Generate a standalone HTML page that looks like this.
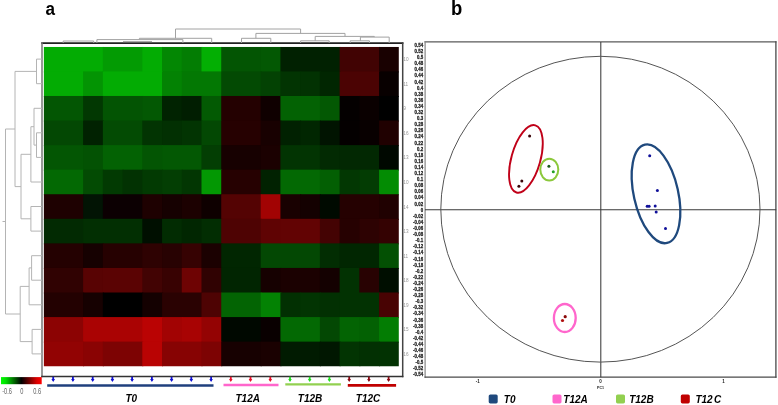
<!DOCTYPE html>
<html><head><meta charset="utf-8"><title>Figure</title>
<style>html,body{margin:0;padding:0;background:#fff}svg{display:block}text{font-family:"Liberation Sans",sans-serif}</style></head>
<body>
<svg width="778" height="405" viewBox="0 0 778 405">
<rect width="778" height="405" fill="#fff"/>
<defs><linearGradient id="cb" x1="0" x2="1" y1="0" y2="0"><stop offset="0" stop-color="#00ff00"/><stop offset="0.12" stop-color="#00dc00"/><stop offset="0.5" stop-color="#000"/><stop offset="0.88" stop-color="#dc0000"/><stop offset="1" stop-color="#ff0000"/></linearGradient></defs>
<text transform="translate(45.4 14.8) scale(0.9 1)" font-size="19" font-weight="bold" fill="#000">a</text>
<text transform="translate(451 14.8) scale(0.9 1)" font-size="20.5" font-weight="bold" fill="#000">b</text>
<clipPath id="hm"><rect x="43.65" y="46.85" width="355.15" height="319.35"/></clipPath><g clip-path="url(#hm)">
<rect x="43.65" y="46.85" width="60.19" height="25.57" fill="rgb(3,172,3)"/><rect x="102.84" y="46.85" width="40.46" height="25.57" fill="rgb(3,155,3)"/><rect x="142.30" y="46.85" width="20.73" height="25.57" fill="rgb(3,172,3)"/><rect x="162.03" y="46.85" width="20.73" height="25.57" fill="rgb(3,135,3)"/><rect x="181.76" y="46.85" width="20.73" height="25.57" fill="rgb(3,125,3)"/><rect x="201.49" y="46.85" width="20.73" height="25.57" fill="rgb(3,175,3)"/><rect x="221.23" y="46.85" width="40.46" height="25.57" fill="rgb(3,85,3)"/><rect x="260.69" y="46.85" width="20.73" height="25.57" fill="rgb(3,88,3)"/><rect x="280.42" y="46.85" width="60.19" height="25.57" fill="rgb(1,33,1)"/><rect x="339.61" y="46.85" width="40.46" height="25.57" fill="rgb(65,3,3)"/><rect x="379.07" y="46.85" width="20.73" height="25.57" fill="rgb(25,1,1)"/>
<rect x="43.65" y="71.42" width="40.46" height="25.57" fill="rgb(3,172,3)"/><rect x="83.11" y="71.42" width="20.73" height="25.57" fill="rgb(3,148,3)"/><rect x="102.84" y="71.42" width="60.19" height="25.57" fill="rgb(3,172,3)"/><rect x="162.03" y="71.42" width="20.73" height="25.57" fill="rgb(3,130,3)"/><rect x="181.76" y="71.42" width="40.46" height="25.57" fill="rgb(3,120,3)"/><rect x="221.23" y="71.42" width="40.46" height="25.57" fill="rgb(3,74,3)"/><rect x="260.69" y="71.42" width="20.73" height="25.57" fill="rgb(3,66,3)"/><rect x="280.42" y="71.42" width="20.73" height="25.57" fill="rgb(2,52,2)"/><rect x="300.15" y="71.42" width="20.73" height="25.57" fill="rgb(2,50,2)"/><rect x="319.88" y="71.42" width="20.73" height="25.57" fill="rgb(1,38,1)"/><rect x="339.61" y="71.42" width="40.46" height="25.57" fill="rgb(75,3,3)"/><rect x="379.07" y="71.42" width="20.73" height="25.57" fill="rgb(8,0,0)"/>
<rect x="43.65" y="95.98" width="40.46" height="25.57" fill="rgb(3,86,3)"/><rect x="83.11" y="95.98" width="20.73" height="25.57" fill="rgb(2,56,2)"/><rect x="102.84" y="95.98" width="40.46" height="25.57" fill="rgb(3,84,3)"/><rect x="142.30" y="95.98" width="20.73" height="25.57" fill="rgb(3,88,3)"/><rect x="162.03" y="95.98" width="20.73" height="25.57" fill="rgb(1,35,1)"/><rect x="181.76" y="95.98" width="20.73" height="25.57" fill="rgb(1,30,1)"/><rect x="201.49" y="95.98" width="20.73" height="25.57" fill="rgb(3,90,3)"/><rect x="221.23" y="95.98" width="40.46" height="25.57" fill="rgb(36,1,1)"/><rect x="260.69" y="95.98" width="20.73" height="25.57" fill="rgb(15,0,0)"/><rect x="280.42" y="95.98" width="40.46" height="25.57" fill="rgb(3,98,3)"/><rect x="319.88" y="95.98" width="20.73" height="25.57" fill="rgb(3,88,3)"/><rect x="339.61" y="95.98" width="20.73" height="25.57" fill="rgb(4,0,0)"/><rect x="359.34" y="95.98" width="20.73" height="25.57" fill="rgb(10,0,0)"/><rect x="379.07" y="95.98" width="20.73" height="25.57" fill="rgb(0,0,0)"/>
<rect x="43.65" y="120.55" width="40.46" height="25.57" fill="rgb(3,72,3)"/><rect x="83.11" y="120.55" width="20.73" height="25.57" fill="rgb(1,34,1)"/><rect x="102.84" y="120.55" width="40.46" height="25.57" fill="rgb(3,75,3)"/><rect x="142.30" y="120.55" width="20.73" height="25.57" fill="rgb(2,52,2)"/><rect x="162.03" y="120.55" width="20.73" height="25.57" fill="rgb(2,48,2)"/><rect x="181.76" y="120.55" width="20.73" height="25.57" fill="rgb(2,52,2)"/><rect x="201.49" y="120.55" width="20.73" height="25.57" fill="rgb(3,72,3)"/><rect x="221.23" y="120.55" width="40.46" height="25.57" fill="rgb(38,1,1)"/><rect x="260.69" y="120.55" width="20.73" height="25.57" fill="rgb(24,1,1)"/><rect x="280.42" y="120.55" width="20.73" height="25.57" fill="rgb(1,33,1)"/><rect x="300.15" y="120.55" width="20.73" height="25.57" fill="rgb(1,38,1)"/><rect x="319.88" y="120.55" width="20.73" height="25.57" fill="rgb(1,20,1)"/><rect x="339.61" y="120.55" width="20.73" height="25.57" fill="rgb(4,0,0)"/><rect x="359.34" y="120.55" width="20.73" height="25.57" fill="rgb(8,0,0)"/><rect x="379.07" y="120.55" width="20.73" height="25.57" fill="rgb(32,1,1)"/>
<rect x="43.65" y="145.11" width="40.46" height="25.57" fill="rgb(3,86,3)"/><rect x="83.11" y="145.11" width="20.73" height="25.57" fill="rgb(3,82,3)"/><rect x="102.84" y="145.11" width="40.46" height="25.57" fill="rgb(3,98,3)"/><rect x="142.30" y="145.11" width="20.73" height="25.57" fill="rgb(3,85,3)"/><rect x="162.03" y="145.11" width="40.46" height="25.57" fill="rgb(3,88,3)"/><rect x="201.49" y="145.11" width="20.73" height="25.57" fill="rgb(3,62,3)"/><rect x="221.23" y="145.11" width="40.46" height="25.57" fill="rgb(23,1,1)"/><rect x="260.69" y="145.11" width="20.73" height="25.57" fill="rgb(27,1,1)"/><rect x="280.42" y="145.11" width="40.46" height="25.57" fill="rgb(2,52,2)"/><rect x="319.88" y="145.11" width="20.73" height="25.57" fill="rgb(2,42,2)"/><rect x="339.61" y="145.11" width="40.46" height="25.57" fill="rgb(2,40,2)"/><rect x="379.07" y="145.11" width="20.73" height="25.57" fill="rgb(0,8,0)"/>
<rect x="43.65" y="169.68" width="40.46" height="25.57" fill="rgb(3,105,3)"/><rect x="83.11" y="169.68" width="20.73" height="25.57" fill="rgb(3,75,3)"/><rect x="102.84" y="169.68" width="20.73" height="25.57" fill="rgb(2,58,2)"/><rect x="122.57" y="169.68" width="20.73" height="25.57" fill="rgb(2,50,2)"/><rect x="142.30" y="169.68" width="20.73" height="25.57" fill="rgb(2,58,2)"/><rect x="162.03" y="169.68" width="20.73" height="25.57" fill="rgb(3,62,3)"/><rect x="181.76" y="169.68" width="20.73" height="25.57" fill="rgb(2,54,2)"/><rect x="201.49" y="169.68" width="20.73" height="25.57" fill="rgb(3,152,3)"/><rect x="221.23" y="169.68" width="40.46" height="25.57" fill="rgb(38,1,1)"/><rect x="260.69" y="169.68" width="20.73" height="25.57" fill="rgb(1,34,1)"/><rect x="280.42" y="169.68" width="40.46" height="25.57" fill="rgb(3,105,3)"/><rect x="319.88" y="169.68" width="20.73" height="25.57" fill="rgb(3,95,3)"/><rect x="339.61" y="169.68" width="20.73" height="25.57" fill="rgb(2,55,2)"/><rect x="359.34" y="169.68" width="20.73" height="25.57" fill="rgb(3,60,3)"/><rect x="379.07" y="169.68" width="20.73" height="25.57" fill="rgb(3,140,3)"/>
<rect x="43.65" y="194.24" width="40.46" height="25.57" fill="rgb(30,1,1)"/><rect x="83.11" y="194.24" width="20.73" height="25.57" fill="rgb(2,20,4)"/><rect x="102.84" y="194.24" width="40.46" height="25.57" fill="rgb(12,0,2)"/><rect x="142.30" y="194.24" width="20.73" height="25.57" fill="rgb(30,1,1)"/><rect x="162.03" y="194.24" width="20.73" height="25.57" fill="rgb(22,1,1)"/><rect x="181.76" y="194.24" width="20.73" height="25.57" fill="rgb(28,1,1)"/><rect x="201.49" y="194.24" width="20.73" height="25.57" fill="rgb(14,0,0)"/><rect x="221.23" y="194.24" width="40.46" height="25.57" fill="rgb(84,3,3)"/><rect x="260.69" y="194.24" width="20.73" height="25.57" fill="rgb(162,3,3)"/><rect x="280.42" y="194.24" width="20.73" height="25.57" fill="rgb(25,1,1)"/><rect x="300.15" y="194.24" width="20.73" height="25.57" fill="rgb(20,1,1)"/><rect x="319.88" y="194.24" width="20.73" height="25.57" fill="rgb(0,10,0)"/><rect x="339.61" y="194.24" width="40.46" height="25.57" fill="rgb(37,1,1)"/><rect x="379.07" y="194.24" width="20.73" height="25.57" fill="rgb(32,1,1)"/>
<rect x="43.65" y="218.81" width="40.46" height="25.57" fill="rgb(2,42,2)"/><rect x="83.11" y="218.81" width="60.19" height="25.57" fill="rgb(2,47,2)"/><rect x="142.30" y="218.81" width="20.73" height="25.57" fill="rgb(0,15,0)"/><rect x="162.03" y="218.81" width="20.73" height="25.57" fill="rgb(2,44,2)"/><rect x="181.76" y="218.81" width="20.73" height="25.57" fill="rgb(1,38,1)"/><rect x="201.49" y="218.81" width="20.73" height="25.57" fill="rgb(2,45,2)"/><rect x="221.23" y="218.81" width="40.46" height="25.57" fill="rgb(78,3,3)"/><rect x="260.69" y="218.81" width="20.73" height="25.57" fill="rgb(95,3,3)"/><rect x="280.42" y="218.81" width="40.46" height="25.57" fill="rgb(98,3,3)"/><rect x="319.88" y="218.81" width="20.73" height="25.57" fill="rgb(68,3,3)"/><rect x="339.61" y="218.81" width="20.73" height="25.57" fill="rgb(38,1,1)"/><rect x="359.34" y="218.81" width="20.73" height="25.57" fill="rgb(45,2,2)"/><rect x="379.07" y="218.81" width="20.73" height="25.57" fill="rgb(52,2,2)"/>
<rect x="43.65" y="243.37" width="40.46" height="25.57" fill="rgb(36,1,1)"/><rect x="83.11" y="243.37" width="20.73" height="25.57" fill="rgb(22,1,1)"/><rect x="102.84" y="243.37" width="40.46" height="25.57" fill="rgb(38,1,1)"/><rect x="142.30" y="243.37" width="20.73" height="25.57" fill="rgb(46,2,2)"/><rect x="162.03" y="243.37" width="20.73" height="25.57" fill="rgb(40,2,2)"/><rect x="181.76" y="243.37" width="20.73" height="25.57" fill="rgb(54,2,2)"/><rect x="201.49" y="243.37" width="20.73" height="25.57" fill="rgb(27,1,1)"/><rect x="221.23" y="243.37" width="40.46" height="25.57" fill="rgb(1,38,1)"/><rect x="260.69" y="243.37" width="60.19" height="25.57" fill="rgb(3,72,3)"/><rect x="319.88" y="243.37" width="20.73" height="25.57" fill="rgb(2,45,2)"/><rect x="339.61" y="243.37" width="40.46" height="25.57" fill="rgb(1,38,1)"/><rect x="379.07" y="243.37" width="20.73" height="25.57" fill="rgb(3,80,3)"/>
<rect x="43.65" y="267.94" width="40.46" height="25.57" fill="rgb(48,2,2)"/><rect x="83.11" y="267.94" width="20.73" height="25.57" fill="rgb(88,3,3)"/><rect x="102.84" y="267.94" width="40.46" height="25.57" fill="rgb(90,3,3)"/><rect x="142.30" y="267.94" width="20.73" height="25.57" fill="rgb(66,3,3)"/><rect x="162.03" y="267.94" width="20.73" height="25.57" fill="rgb(56,2,2)"/><rect x="181.76" y="267.94" width="20.73" height="25.57" fill="rgb(110,3,3)"/><rect x="201.49" y="267.94" width="20.73" height="25.57" fill="rgb(48,2,2)"/><rect x="221.23" y="267.94" width="40.46" height="25.57" fill="rgb(1,37,1)"/><rect x="260.69" y="267.94" width="20.73" height="25.57" fill="rgb(22,1,1)"/><rect x="280.42" y="267.94" width="40.46" height="25.57" fill="rgb(27,1,1)"/><rect x="319.88" y="267.94" width="20.73" height="25.57" fill="rgb(20,1,1)"/><rect x="339.61" y="267.94" width="20.73" height="25.57" fill="rgb(2,50,2)"/><rect x="359.34" y="267.94" width="20.73" height="25.57" fill="rgb(40,2,2)"/><rect x="379.07" y="267.94" width="20.73" height="25.57" fill="rgb(0,14,0)"/>
<rect x="43.65" y="292.50" width="40.46" height="25.57" fill="rgb(35,1,1)"/><rect x="83.11" y="292.50" width="20.73" height="25.57" fill="rgb(22,1,1)"/><rect x="102.84" y="292.50" width="40.46" height="25.57" fill="rgb(0,0,0)"/><rect x="142.30" y="292.50" width="20.73" height="25.57" fill="rgb(20,1,1)"/><rect x="162.03" y="292.50" width="40.46" height="25.57" fill="rgb(42,2,2)"/><rect x="201.49" y="292.50" width="20.73" height="25.57" fill="rgb(78,3,3)"/><rect x="221.23" y="292.50" width="40.46" height="25.57" fill="rgb(3,100,3)"/><rect x="260.69" y="292.50" width="20.73" height="25.57" fill="rgb(3,130,3)"/><rect x="280.42" y="292.50" width="20.73" height="25.57" fill="rgb(2,48,2)"/><rect x="300.15" y="292.50" width="20.73" height="25.57" fill="rgb(2,52,2)"/><rect x="319.88" y="292.50" width="20.73" height="25.57" fill="rgb(2,48,2)"/><rect x="339.61" y="292.50" width="40.46" height="25.57" fill="rgb(2,50,2)"/><rect x="379.07" y="292.50" width="20.73" height="25.57" fill="rgb(72,3,3)"/>
<rect x="43.65" y="317.07" width="40.46" height="25.57" fill="rgb(140,3,3)"/><rect x="83.11" y="317.07" width="60.19" height="25.57" fill="rgb(170,3,3)"/><rect x="142.30" y="317.07" width="20.73" height="25.57" fill="rgb(186,3,3)"/><rect x="162.03" y="317.07" width="20.73" height="25.57" fill="rgb(162,3,3)"/><rect x="181.76" y="317.07" width="20.73" height="25.57" fill="rgb(168,3,3)"/><rect x="201.49" y="317.07" width="20.73" height="25.57" fill="rgb(148,3,3)"/><rect x="221.23" y="317.07" width="40.46" height="25.57" fill="rgb(0,8,0)"/><rect x="260.69" y="317.07" width="20.73" height="25.57" fill="rgb(9,0,0)"/><rect x="280.42" y="317.07" width="40.46" height="25.57" fill="rgb(3,105,3)"/><rect x="319.88" y="317.07" width="20.73" height="25.57" fill="rgb(3,72,3)"/><rect x="339.61" y="317.07" width="20.73" height="25.57" fill="rgb(3,100,3)"/><rect x="359.34" y="317.07" width="20.73" height="25.57" fill="rgb(3,97,3)"/><rect x="379.07" y="317.07" width="20.73" height="25.57" fill="rgb(3,125,3)"/>
<rect x="43.65" y="341.63" width="40.46" height="25.57" fill="rgb(146,3,3)"/><rect x="83.11" y="341.63" width="20.73" height="25.57" fill="rgb(138,3,3)"/><rect x="102.84" y="341.63" width="40.46" height="25.57" fill="rgb(125,3,3)"/><rect x="142.30" y="341.63" width="20.73" height="25.57" fill="rgb(185,3,3)"/><rect x="162.03" y="341.63" width="40.46" height="25.57" fill="rgb(135,3,3)"/><rect x="201.49" y="341.63" width="20.73" height="25.57" fill="rgb(125,3,3)"/><rect x="221.23" y="341.63" width="40.46" height="25.57" fill="rgb(23,1,1)"/><rect x="260.69" y="341.63" width="20.73" height="25.57" fill="rgb(26,1,1)"/><rect x="280.42" y="341.63" width="40.46" height="25.57" fill="rgb(1,27,1)"/><rect x="319.88" y="341.63" width="20.73" height="25.57" fill="rgb(1,23,1)"/><rect x="339.61" y="341.63" width="20.73" height="25.57" fill="rgb(2,52,2)"/><rect x="359.34" y="341.63" width="20.73" height="25.57" fill="rgb(2,48,2)"/><rect x="379.07" y="341.63" width="20.73" height="25.57" fill="rgb(2,50,2)"/>
</g>
<path d="M41.2 43.05H403.4" stroke="#222" stroke-width="1.7"/><path d="M42 42.2V377.2" stroke="#777" stroke-width="1.5"/><path d="M402.7 42.2V377.2" stroke="#444" stroke-width="1.5"/><path d="M41.2 376.5H403.4" stroke="#333" stroke-width="1.4"/>
<path d="M42.0 59.1H36.5M42.0 83.7H36.5M36.5 59.1V83.7M36.5 71.4H15.0M42.0 132.8H36.5M42.0 157.4H36.5M36.5 132.8V157.4M36.5 145.1H34.0M42.0 108.3H34.0M34.0 108.3V145.1M34.0 126.7H30.9M42.0 182.0H30.9M30.9 126.7V182.0M30.9 154.3H21.0M42.0 206.5H30.9M42.0 231.1H30.9M30.9 206.5V231.1M30.9 218.8H21.0M21.0 154.3V218.8M21.0 186.6H15.0M15.0 71.4V186.6M15.0 129.0H5.5M42.0 255.7H31.6M42.0 280.2H31.6M31.6 255.7V280.2M31.6 267.9H29.1M42.0 304.8H29.1M29.1 267.9V304.8M29.1 286.4H20.2M42.0 329.4H32.1M42.0 353.9H32.1M32.1 329.4V353.9M32.1 341.6H20.2M20.2 286.4V341.6M20.2 314.0H5.5M5.5 129.0V314.0M5.5 221.5H2.5" fill="none" stroke="#b4b4b4" stroke-width="1"/>
<path d="M63.2 41.0H93.7M63.2 41.0V43.0M93.7 41.0V43.0M96.9 39.6H182.9M96.9 39.6V43.0M182.9 39.6V43.0M139.4 38.3H211.7M139.4 38.3V39.6M211.7 38.3V43.0M123.0 41.6H152.0M175.5 38.3V29.0M175.5 29.0H300.6M300.6 29.0V33.4M255.9 33.4H345.0M255.9 33.4V38.3M241.5 38.3H270.8M241.5 38.3V43.0M270.8 38.3V43.0M345.0 33.4V36.4M315.2 36.4H374.3M315.2 36.4V40.8M300.6 40.8H329.2M300.6 40.8V43.0M329.2 40.8V43.0M374.3 36.4V37.1M360.4 37.1H389.2M389.2 37.1V43.0M360.4 37.1V40.8M350.2 40.8H369.4M350.2 40.8V43.0M369.4 40.8V43.0" fill="none" stroke="#a2a2a2" stroke-width="1"/>
<rect x="1" y="377.1" width="40.7" height="7.1" fill="url(#cb)"/>
<g font-size="8.3" fill="#444" text-anchor="middle" opacity="0.85"><text transform="translate(7 393.5) scale(0.68 1)">-0.6</text><text transform="translate(21.7 393.5) scale(0.68 1)">0</text><text transform="translate(37.1 393.5) scale(0.68 1)">0.6</text></g>
<path d="M53.2 376.8V380.4" stroke="#1010d0" stroke-width="1.8" fill="none"/><path d="M51.4 378.9h3.6l-1.8 3z" fill="#1010d0"/><path d="M72.9 376.8V380.4" stroke="#1010d0" stroke-width="1.8" fill="none"/><path d="M71.1 378.9h3.6l-1.8 3z" fill="#1010d0"/><path d="M92.7 376.8V380.4" stroke="#1010d0" stroke-width="1.8" fill="none"/><path d="M90.9 378.9h3.6l-1.8 3z" fill="#1010d0"/><path d="M112.4 376.8V380.4" stroke="#1010d0" stroke-width="1.8" fill="none"/><path d="M110.6 378.9h3.6l-1.8 3z" fill="#1010d0"/><path d="M132.1 376.8V380.4" stroke="#1010d0" stroke-width="1.8" fill="none"/><path d="M130.3 378.9h3.6l-1.8 3z" fill="#1010d0"/><path d="M151.9 376.8V380.4" stroke="#1010d0" stroke-width="1.8" fill="none"/><path d="M150.1 378.9h3.6l-1.8 3z" fill="#1010d0"/><path d="M171.6 376.8V380.4" stroke="#1010d0" stroke-width="1.8" fill="none"/><path d="M169.8 378.9h3.6l-1.8 3z" fill="#1010d0"/><path d="M191.3 376.8V380.4" stroke="#1010d0" stroke-width="1.8" fill="none"/><path d="M189.5 378.9h3.6l-1.8 3z" fill="#1010d0"/><path d="M211.1 376.8V380.4" stroke="#1010d0" stroke-width="1.8" fill="none"/><path d="M209.3 378.9h3.6l-1.8 3z" fill="#1010d0"/><path d="M230.8 376.8V380.4" stroke="#e8102a" stroke-width="1.8" fill="none"/><path d="M229.0 378.9h3.6l-1.8 3z" fill="#e8102a"/><path d="M250.5 376.8V380.4" stroke="#e8102a" stroke-width="1.8" fill="none"/><path d="M248.7 378.9h3.6l-1.8 3z" fill="#e8102a"/><path d="M270.3 376.8V380.4" stroke="#e8102a" stroke-width="1.8" fill="none"/><path d="M268.5 378.9h3.6l-1.8 3z" fill="#e8102a"/><path d="M290.0 376.8V380.4" stroke="#22dd22" stroke-width="1.8" fill="none"/><path d="M288.2 378.9h3.6l-1.8 3z" fill="#22dd22"/><path d="M309.7 376.8V380.4" stroke="#22dd22" stroke-width="1.8" fill="none"/><path d="M307.9 378.9h3.6l-1.8 3z" fill="#22dd22"/><path d="M329.4 376.8V380.4" stroke="#22dd22" stroke-width="1.8" fill="none"/><path d="M327.6 378.9h3.6l-1.8 3z" fill="#22dd22"/><path d="M349.2 376.8V380.4" stroke="#8a0a14" stroke-width="1.8" fill="none"/><path d="M347.4 378.9h3.6l-1.8 3z" fill="#8a0a14"/><path d="M368.9 376.8V380.4" stroke="#8a0a14" stroke-width="1.8" fill="none"/><path d="M367.1 378.9h3.6l-1.8 3z" fill="#8a0a14"/><path d="M388.6 376.8V380.4" stroke="#8a0a14" stroke-width="1.8" fill="none"/><path d="M386.8 378.9h3.6l-1.8 3z" fill="#8a0a14"/>
<path d="M47.2 385.5H213.5" stroke="#1f3f7d" stroke-width="2.4"/>
<path d="M223.5 385H278.5" stroke="#ff66cc" stroke-width="2.4"/>
<path d="M285.3 384.4H340.9" stroke="#92d050" stroke-width="2.2"/>
<path d="M347.8 385.3H396.1" stroke="#c00000" stroke-width="2.7"/>
<g font-size="10" font-weight="bold" font-style="italic" fill="#000"><text x="125.5" y="402.4">T0</text><text x="235.5" y="402.4">T12A</text><text x="297.8" y="402.4">T12B</text><text x="355.8" y="402.4">T12C</text></g>
<g font-size="5.5" fill="#969696"><text transform="translate(403.3 61.1) scale(0.85 1)">10</text><text transform="translate(403.3 85.7) scale(0.85 1)">11</text><text transform="translate(403.3 110.3) scale(0.85 1)">9</text><text transform="translate(403.3 134.8) scale(0.85 1)">16</text><text transform="translate(403.3 159.4) scale(0.85 1)">13</text><text transform="translate(403.3 184.0) scale(0.85 1)">10</text><text transform="translate(403.3 208.5) scale(0.85 1)">14</text><text transform="translate(403.3 233.1) scale(0.85 1)">13</text><text transform="translate(403.3 257.7) scale(0.85 1)">11</text><text transform="translate(403.3 282.2) scale(0.85 1)">18</text><text transform="translate(403.3 306.8) scale(0.85 1)">19</text><text transform="translate(403.3 331.4) scale(0.85 1)">15</text><text transform="translate(403.3 355.9) scale(0.85 1)">16</text></g>
<path d="M424.5 41.85H776.5" stroke="#5a5a5a" stroke-width="1.2"/><path d="M425.1 41.3V377.7" stroke="#858585" stroke-width="1.2"/><path d="M775.9 41.3V377.7" stroke="#484848" stroke-width="1.3"/><path d="M424.5 377.1H776.5" stroke="#4a4a4a" stroke-width="1.4"/>
<path d="M600.8 42V377.3M425 209.65H776.2" stroke="#3a3a3a" stroke-width="1.05" fill="none"/>
<ellipse cx="600.4" cy="209.2" rx="159.6" ry="152.9" fill="none" stroke="#555" stroke-width="1"/>
<g font-size="5.1" font-weight="bold" fill="#1a1a1a" stroke="#1a1a1a" stroke-width="0.25" text-anchor="end"><text transform="translate(423.1 46.90) scale(0.86 1)">0.54</text><text transform="translate(423.1 53.00) scale(0.86 1)">0.52</text><text transform="translate(423.1 59.11) scale(0.86 1)">0.5</text><text transform="translate(423.1 65.21) scale(0.86 1)">0.48</text><text transform="translate(423.1 71.31) scale(0.86 1)">0.46</text><text transform="translate(423.1 77.41) scale(0.86 1)">0.44</text><text transform="translate(423.1 83.52) scale(0.86 1)">0.42</text><text transform="translate(423.1 89.62) scale(0.86 1)">0.4</text><text transform="translate(423.1 95.72) scale(0.86 1)">0.38</text><text transform="translate(423.1 101.83) scale(0.86 1)">0.36</text><text transform="translate(423.1 107.93) scale(0.86 1)">0.34</text><text transform="translate(423.1 114.03) scale(0.86 1)">0.32</text><text transform="translate(423.1 120.14) scale(0.86 1)">0.3</text><text transform="translate(423.1 126.24) scale(0.86 1)">0.28</text><text transform="translate(423.1 132.34) scale(0.86 1)">0.26</text><text transform="translate(423.1 138.44) scale(0.86 1)">0.24</text><text transform="translate(423.1 144.55) scale(0.86 1)">0.22</text><text transform="translate(423.1 150.65) scale(0.86 1)">0.2</text><text transform="translate(423.1 156.75) scale(0.86 1)">0.18</text><text transform="translate(423.1 162.86) scale(0.86 1)">0.16</text><text transform="translate(423.1 168.96) scale(0.86 1)">0.14</text><text transform="translate(423.1 175.06) scale(0.86 1)">0.12</text><text transform="translate(423.1 181.17) scale(0.86 1)">0.1</text><text transform="translate(423.1 187.27) scale(0.86 1)">0.08</text><text transform="translate(423.1 193.37) scale(0.86 1)">0.06</text><text transform="translate(423.1 199.47) scale(0.86 1)">0.04</text><text transform="translate(423.1 205.58) scale(0.86 1)">0.02</text><text transform="translate(423.1 211.68) scale(0.86 1)">0</text><text transform="translate(423.1 217.78) scale(0.86 1)">-0.02</text><text transform="translate(423.1 223.89) scale(0.86 1)">-0.04</text><text transform="translate(423.1 229.99) scale(0.86 1)">-0.06</text><text transform="translate(423.1 236.09) scale(0.86 1)">-0.08</text><text transform="translate(423.1 242.20) scale(0.86 1)">-0.1</text><text transform="translate(423.1 248.30) scale(0.86 1)">-0.12</text><text transform="translate(423.1 254.40) scale(0.86 1)">-0.14</text><text transform="translate(423.1 260.50) scale(0.86 1)">-0.16</text><text transform="translate(423.1 266.61) scale(0.86 1)">-0.18</text><text transform="translate(423.1 272.71) scale(0.86 1)">-0.2</text><text transform="translate(423.1 278.81) scale(0.86 1)">-0.22</text><text transform="translate(423.1 284.92) scale(0.86 1)">-0.24</text><text transform="translate(423.1 291.02) scale(0.86 1)">-0.26</text><text transform="translate(423.1 297.12) scale(0.86 1)">-0.28</text><text transform="translate(423.1 303.23) scale(0.86 1)">-0.3</text><text transform="translate(423.1 309.33) scale(0.86 1)">-0.32</text><text transform="translate(423.1 315.43) scale(0.86 1)">-0.34</text><text transform="translate(423.1 321.54) scale(0.86 1)">-0.36</text><text transform="translate(423.1 327.64) scale(0.86 1)">-0.38</text><text transform="translate(423.1 333.74) scale(0.86 1)">-0.4</text><text transform="translate(423.1 339.84) scale(0.86 1)">-0.42</text><text transform="translate(423.1 345.95) scale(0.86 1)">-0.44</text><text transform="translate(423.1 352.05) scale(0.86 1)">-0.46</text><text transform="translate(423.1 358.15) scale(0.86 1)">-0.48</text><text transform="translate(423.1 364.26) scale(0.86 1)">-0.5</text><text transform="translate(423.1 370.36) scale(0.86 1)">-0.52</text><text transform="translate(423.1 376.46) scale(0.86 1)">-0.54</text></g>
<g font-size="4.5" font-weight="bold" fill="#222" text-anchor="middle"><text x="477.8" y="383">-1</text><text x="600.6" y="382.6">0</text><text x="723.5" y="383">1</text><text x="600.6" y="388.6" font-size="3.6">PC1</text></g>
<ellipse cx="525.9" cy="158.9" rx="14.5" ry="34.9" transform="rotate(15.7 525.9 158.9)" fill="none" stroke="#c00018" stroke-width="1.9"/>
<ellipse cx="549.3" cy="169.6" rx="9" ry="10.9" fill="none" stroke="#8cc83c" stroke-width="2"/>
<ellipse cx="656" cy="193.8" rx="22.2" ry="50.4" transform="rotate(-12.7 656 193.8)" fill="none" stroke="#1f497d" stroke-width="2.3"/>
<ellipse cx="564.8" cy="318" rx="10.9" ry="14" fill="none" stroke="#ff66cc" stroke-width="2.3"/>
<circle cx="529.6" cy="136.0" r="1.50" fill="#3a0508"/><circle cx="521.8" cy="181.1" r="1.50" fill="#3a0508"/><circle cx="518.9" cy="186.2" r="1.50" fill="#3a0508"/><circle cx="548.9" cy="166.2" r="1.50" fill="#1a5a1a"/><circle cx="553.3" cy="171.8" r="1.50" fill="#22a022"/><circle cx="649.7" cy="155.7" r="1.50" fill="#10109a"/><circle cx="657.4" cy="190.5" r="1.50" fill="#10109a"/><circle cx="647.2" cy="206.2" r="1.50" fill="#10109a"/><circle cx="649.1" cy="206.2" r="1.50" fill="#10109a"/><circle cx="655.2" cy="205.9" r="1.50" fill="#10109a"/><circle cx="656.2" cy="212.0" r="1.50" fill="#10109a"/><circle cx="665.5" cy="228.4" r="1.50" fill="#10109a"/><circle cx="565.2" cy="316.7" r="1.60" fill="#8a0808"/><circle cx="562.5" cy="320.5" r="1.60" fill="#b01010"/>
<rect x="488.7" y="394.4" width="9" height="9" rx="1.6" fill="#1f497d"/><rect x="552.5" y="394.4" width="9" height="9" rx="1.6" fill="#ff66cc"/><rect x="616.0" y="394.4" width="9" height="9" rx="1.6" fill="#92d050"/><rect x="680.8" y="394.4" width="9" height="9" rx="1.6" fill="#c00000"/>
<g font-size="10" font-weight="bold" font-style="italic" fill="#000"><text x="503.8" y="402.6">T0</text><text x="563.3" y="402.6">T12A</text><text x="629.2" y="402.6">T12B</text><text x="695.4" y="402.6" style="word-spacing:-1.4px">T12 C</text></g>
</svg>
</body></html>
